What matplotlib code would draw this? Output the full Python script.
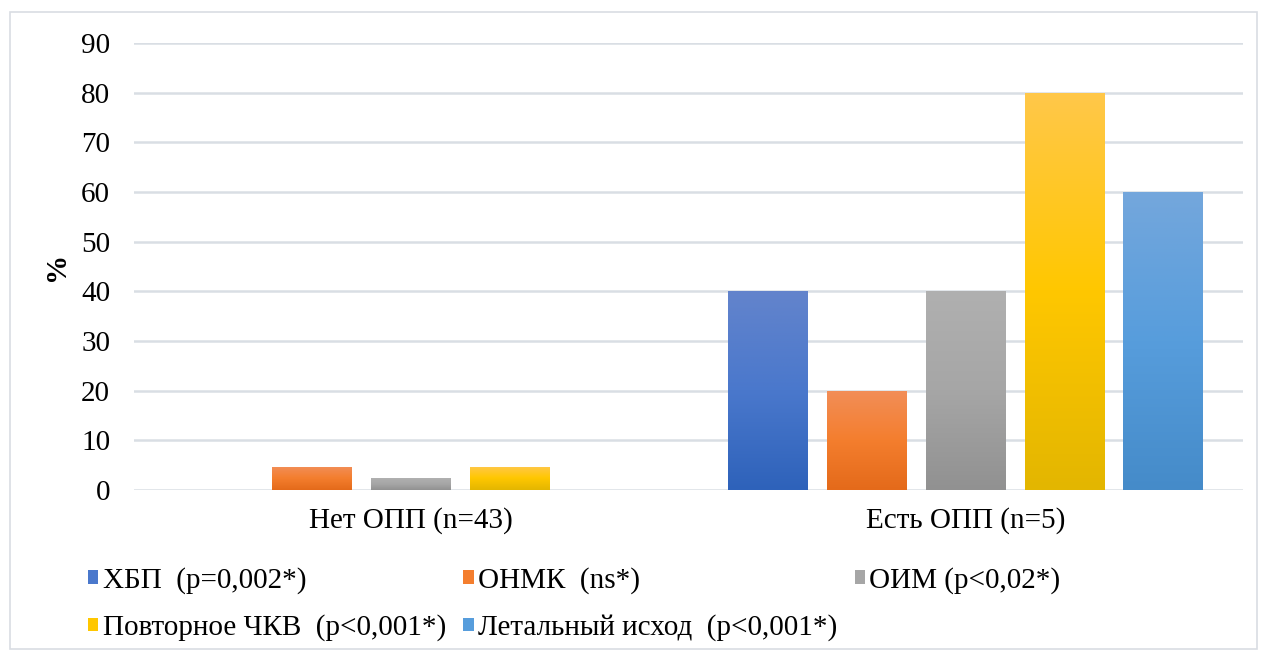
import numpy as np
import matplotlib
matplotlib.use("Agg")
import matplotlib.pyplot as plt
from matplotlib.colors import LinearSegmentedColormap
from matplotlib.patches import Rectangle

plt.rcParams['font.family'] = ['Liberation Serif', 'DejaVu Serif']

groups = ['Нет ОПП (n=43)', 'Есть ОПП (n=5)']
series = ['ХБП  (p=0,002*)', 'ОНМК  (ns*)', 'ОИМ (p<0,02*)',
          'Повторное ЧКВ  (p<0,001*)', 'Летальный исход  (p<0,001*)']
values = [
    [0, 40],
    [4.65, 20],
    [2.33, 40],
    [4.65, 80],
    [0, 60],
]
# top, middle, bottom colours of each gradient
grad = [
    ['#6384CC', '#4A78CC', '#2E62BA'],
    ['#F28E58', '#F47E2E', '#E46A1A'],
    ['#B0B0B0', '#A6A6A6', '#919191'],
    ['#FFC84A', '#FFC700', '#E3B600'],
    ['#74A7DC', '#579DDC', '#458BC9'],
]
mid = [g[1] for g in grad]
FS = 21

fig = plt.figure(figsize=(12.62, 6.53), dpi=100)
ax = fig.add_axes([0.106, 0.2496, 0.879, 0.6844])

# outer frame
fig.patches.append(Rectangle((0.008, 0.006), 0.988, 0.975, transform=fig.transFigure,
                             fill=False, edgecolor='#D9DDE3', linewidth=1.2))

x = np.arange(len(groups))
w = 0.144
step = 0.178
handles = []
for i, s in enumerate(series):
    pos = x + (i - 2) * step
    bars = ax.bar(pos, values[i], width=w, color=mid[i], zorder=3, label=s)
    handles.append(bars[0])
    cmap = LinearSegmentedColormap.from_list('g%d' % i, grad[i][::-1])
    for b in bars:
        h = b.get_height()
        if h <= 0:
            continue
        x0 = b.get_x()
        img = ax.imshow(np.linspace(0, 1, 256).reshape(-1, 1), cmap=cmap, origin='lower',
                        extent=[x0, x0 + w, 0, h], aspect='auto', zorder=4)
        img.set_clip_path(b)

ax.set_xlim(-0.5, 1.5)
ax.set_ylim(0, 90)
ax.set_yticks(range(0, 91, 10))
ax.set_xticks(x)
ax.set_xticklabels(groups, fontsize=FS)
ax.tick_params(axis='both', length=0, labelsize=FS)
ax.tick_params(axis='x', pad=12)
ax.tick_params(axis='y', pad=17)
ax.grid(axis='y', color='#D9DEE4', linewidth=1.8, zorder=0)
for sp in ax.spines.values():
    sp.set_visible(False)
ax.set_ylabel('%', fontsize=FS, fontweight='bold', labelpad=8)

order = [0, 3, 1, 4, 2]
fig.legend([handles[k] for k in order], [series[k] for k in order],
           ncol=3, loc='upper left', bbox_to_anchor=(88 / 1262, 1 - 567 / 653),
           frameon=False, fontsize=FS, handlelength=0.35, handleheight=0.35,
           handletextpad=0.15, columnspacing=0.6, labelspacing=0.7, borderpad=0,
           borderaxespad=0)

fig.savefig('out.png', dpi=100)
